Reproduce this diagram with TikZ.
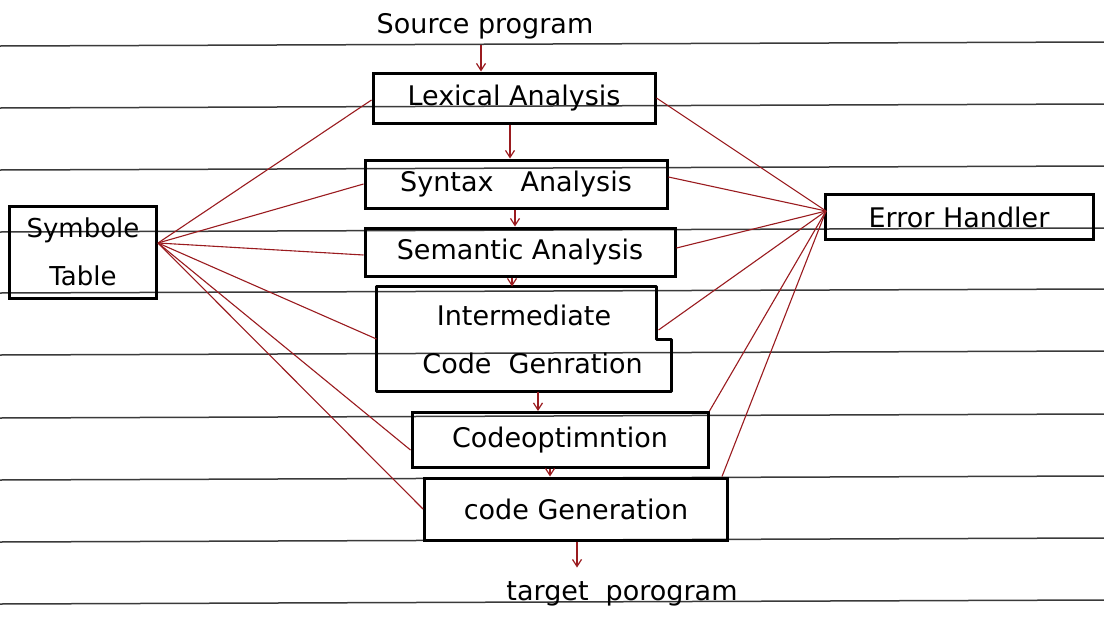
\documentclass[tikz,border=0pt]{standalone}
\usepackage{fontspec}
\setmainfont{DejaVu Sans}
\usetikzlibrary{arrows.meta}
\definecolor{inkred}{HTML}{9A1B1F}
\definecolor{rule}{HTML}{3A3A3A}
\begin{document}
\begin{tikzpicture}[x=1pt,y=-1pt,
  stage/.style={draw=black,line width=3pt,rectangle,inner sep=0pt,align=center,
    font=\fontsize{27}{48}\selectfont},
  label/.style={inner sep=0pt,font=\fontsize{27}{32}\selectfont},
  link/.style={draw=inkred,line width=1.1pt},
  flow/.style={draw=inkred,line width=1.2pt,-{Straight Barb[length=7pt,width=9pt]}},
  ruled/.style={draw=rule,line width=1.5pt}]
\useasboundingbox (0,0) rectangle (1104,619);
\fill[white] (0,0) rectangle (1104,619);
% ruled paper lines
\foreach \y in {44,106,168,230,291,353,416,478,540,602}
  \draw[ruled] (0,\y+2) -- (1104,\y-2);
% nodes
\node[label] (src) at (485,26) {Source program};
\node[stage,minimum width=282pt,minimum height=50pt] (lex) at (514,98) {Lexical Analysis};
\node[stage,minimum width=302pt,minimum height=48pt] (syn) at (516,184) {Syntax\quad Analysis};
\node[stage,minimum width=310pt,minimum height=48pt] (sem) at (520,252) {Semantic Analysis};
\node[stage,draw=none,minimum width=292pt,minimum height=102pt] (inter) at (524,339) {Intermediate\\\ \ Code\ \ Genration};
\draw[line width=3pt,line join=round] (inter.north west) -- ([xshift=-15pt]inter.north east)
  -- ([xshift=-15pt]inter.east) -- (inter.east) -- (inter.south east) -- (inter.south west) -- cycle;
\node[stage,minimum width=296pt,minimum height=55pt] (opt) at (560,440) {Codeoptimntion};
\node[stage,minimum width=303pt,minimum height=62pt] (gen) at (576,509) {code Generation};
\node[label] (tgt) at (622,594) {target\ \ porogram};
\node[stage,minimum width=147pt,minimum height=92pt,font=\fontsize{26}{48}\selectfont] (sym) at (83,252) {Symbole\\Table};
\node[stage,minimum width=268pt,minimum height=45pt] (err) at (959,217) {Error Handler};
\coordinate (symP) at (158,243);
\coordinate (errP) at (826,211);
% flow arrows
\draw[flow,shorten <=6pt] ([xshift=-4pt]src.south) -- ([xshift=-4pt]src.south |- lex.north);
\draw[flow] ([xshift=-4pt]lex.south) -- ([xshift=-4pt]lex.south |- syn.north);
\draw[flow] ([xshift=-1pt]syn.south) -- ([xshift=-1pt]syn.south |- sem.north);
\draw[flow] ([xshift=-8pt]sem.south) -- ([xshift=-8pt]sem.south |- inter.north);
\draw[flow] ([xshift=14pt]inter.south) -- ([xshift=14pt]inter.south |- opt.north);
\draw[flow] ([xshift=-10pt]opt.south) -- ([xshift=-10pt]opt.south |- gen.north);
\draw[flow,shorten >=14pt] ([xshift=1pt]gen.south) -- ([xshift=1pt]gen.south |- tgt.north);
% symbol table links
\draw[link] (symP) -- ([yshift=-2pt]lex.west);
\draw[link] (symP) -- (syn.west);
\draw[link] (symP) -- ([yshift=-3pt]sem.west);
\draw[link] (symP) -- (inter.west);
\draw[link] (symP) -- ([yshift=-10pt]opt.west);
\draw[link] (symP) -- (gen.west);
% error handler links
\draw[link] (errP) -- (lex.east);
\draw[link] (errP) -- ([yshift=7pt]syn.east);
\draw[link] (errP) -- ([yshift=4pt]sem.east);
\draw[link] (errP) -- ([xshift=-13pt,yshift=9pt]inter.east);
\draw[link] (errP) -- (opt.north east);
\draw[link] (errP) -- ([xshift=-7pt]gen.north east);
\end{tikzpicture}
\end{document}
